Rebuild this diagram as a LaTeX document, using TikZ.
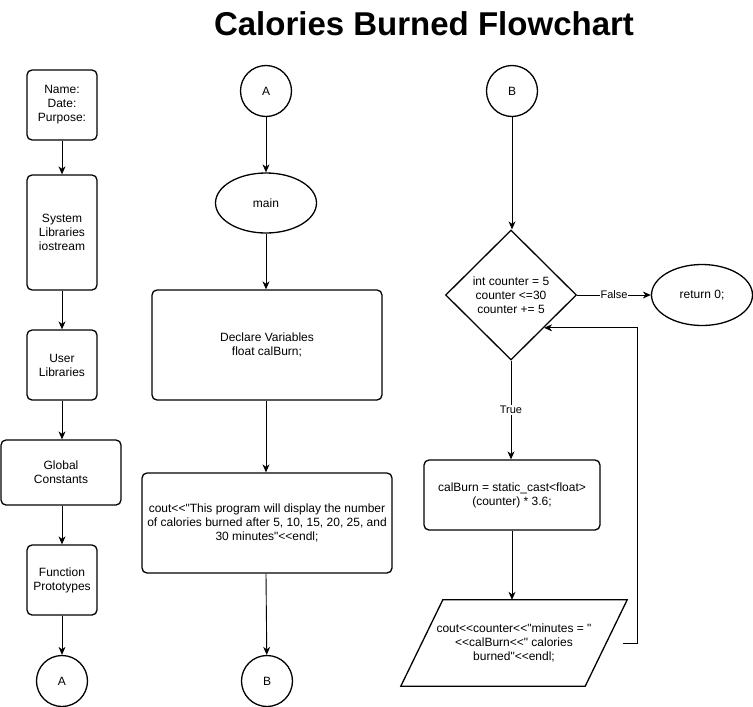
\documentclass[tikz,border=0pt]{standalone}
\usepackage{fontspec}
\setmainfont{Liberation Sans}[Ligatures=TeXOff]
\usetikzlibrary{shapes.geometric,arrows.meta,calc}
\begin{document}
\begin{tikzpicture}[x=1pt,y=-1pt,
  txt/.style={align=center, font=\fontsize{12}{14}\selectfont, inner sep=0pt},
  box/.style={txt, draw, line width=1.3pt, rounded corners=5pt},
  circ/.style={txt, draw, line width=1.3pt, circle, minimum size=51pt},
  oval/.style={txt, draw, line width=1.3pt, ellipse},
  arr/.style={line width=0.9pt, -{Stealth[length=8pt,width=7pt,inset=2.5pt]}},
  lbl/.style={fill=white, inner sep=1pt, font=\fontsize{11}{13}\selectfont}
]
\useasboundingbox (0,0) rectangle (753,707);

\node[font=\fontsize{33}{36}\selectfont\bfseries] (title) at (424,24) {Calories Burned Flowchart};

% left column
\node[box, minimum width=70pt, minimum height=70pt] (name) at (62,105) {Name:\\Date:\\Purpose:};
\node[box, minimum width=70pt, minimum height=115pt] (sys) at (62,232.5) {System\\Libraries\\iostream};
\node[box, minimum width=70pt, minimum height=70pt] (user) at (62,365) {User\\Libraries};
\node[box, minimum width=120pt, minimum height=65pt] (glob) at (61,472.5) {Global\\Constants};
\node[box, minimum width=70pt, minimum height=70pt] (func) at (62,580) {Function\\Prototypes};
\node[circ] (aleft) at (62,681) {A};

\draw[arr] (name) -- (sys);
\draw[arr] (sys) -- (user);
\draw[arr] (user) -- (glob.north -| user.south);
\draw[arr] (glob.south -| func.north) -- (func);
\draw[arr] (func) -- (aleft);

% middle column
\node[circ] (amid) at (266,91) {A};
\node[oval, minimum width=101pt, minimum height=60pt] (main) at (266,203) {main};
\node[box, minimum width=230pt, minimum height=110pt] (decl) at (267,345) {Declare Variables\\float calBurn;};
\node[box, minimum width=250pt, minimum height=100pt] (cout) at (267,523) {cout<<"This program will display the number\\of calories burned after 5, 10, 15, 20, 25, and\\30 minutes"<<endl;};
\node[circ] (bmid) at (267,681) {B};

\draw[arr] (amid) -- (main);
\draw[arr] (main) -- (main |- decl.north);
\draw[arr] (main |- decl.south) -- (main |- cout.north);
\draw[arr] (main |- cout.south) -- (bmid);

% right column
\node[circ] (btop) at (512,91) {B};
\node[txt, draw, line width=1.3pt, diamond, aspect=1, minimum width=131pt, minimum height=130pt] (dia) at (511,295) {int counter = 5\\counter <=30\\counter += 5};
\node[oval, minimum width=101pt, minimum height=61pt] (ret) at (702,295) {return 0;};
\node[box, minimum width=176pt, minimum height=70pt] (calc) at (512,495) {calBurn = static\_cast<float>\\(counter) * 3.6;};
\node[txt, minimum width=184pt, minimum height=86pt] (para) at (514,643) {cout<<counter<<"minutes = "\\<<calBurn<<" calories\\burned"<<endl;};
\draw[line width=1.3pt] ($(para.north west)+(21,0)$) -- ($(para.north east)+(21,0)$)
  -- ($(para.south east)+(-21,0)$) -- ($(para.south west)+(-21,0)$) -- cycle;

\draw[arr] (btop) -- (btop |- dia.north);
\draw[arr] (dia) -- node[lbl] {False} (ret);
\draw[arr] (dia) -- node[lbl, pos=0.5] {True} (dia |- calc.north);
\draw[arr] (calc) -- (calc |- para.north);
\coordinate (loopc) at (637,643);
\draw[arr, shorten <=17pt] (para.east) -- (loopc) |- (dia.south east);
\end{tikzpicture}
\end{document}
